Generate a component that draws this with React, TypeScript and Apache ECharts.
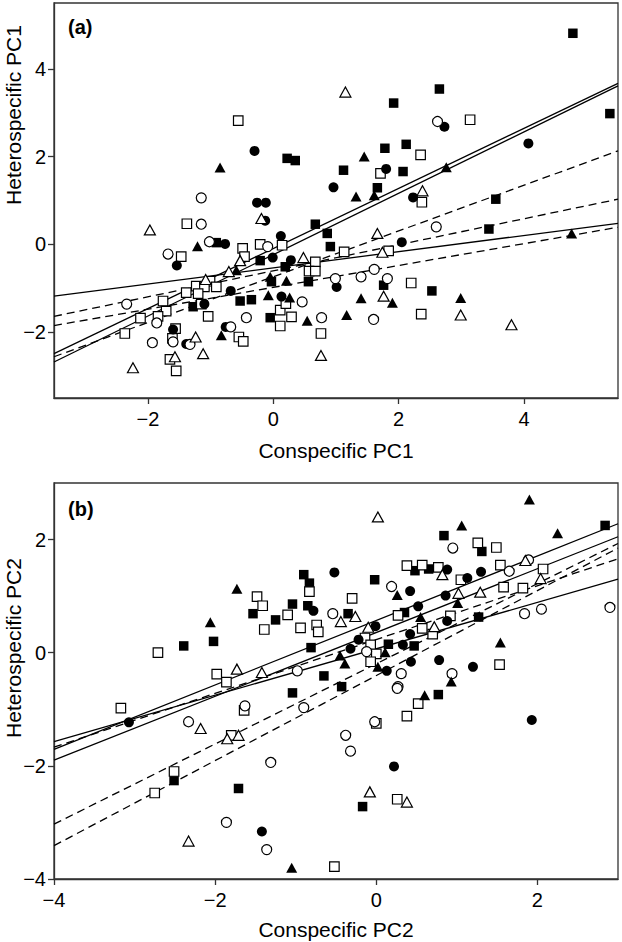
import React, { useEffect, useRef } from "react";
import * as echarts from "echarts";

// ---------- Panel (a): Conspecific PC1 vs Heterospecific PC1 ----------
const aFilledSquare = [
  [0.22, 1.96], [0.35, 1.91], [1.12, 1.69], [4.78, 4.81], [2.65, 3.54], [1.92, 3.22], [5.37, 2.98],
  [1.78, 2.19], [2.12, 2.28], [2.07, 1.66], [1.66, 1.29], [3.55, 1.03], [-0.91, 0.04], [0.67, 0.46],
  [0.86, 0.25], [0.91, -0.05], [-0.21, -0.37], [0.19, -0.51], [0.56, -0.85], [-0.03, -0.85],
  [-0.53, -1.29], [-0.35, -1.26], [-1.28, -1.42], [-0.05, -1.67], [3.44, 0.35], [1.76, -0.93], [2.53, -1.06],
];
const aOpenSquare = [
  [-0.56, 2.82], [3.14, 2.84], [2.35, 2.04], [1.71, 1.62], [2.37, 0.96], [-1.38, 0.47], [-1.47, -0.28],
  [-0.21, 0.0], [0.14, -0.02], [-0.49, -0.09], [-0.46, -0.28], [0.67, -0.4], [0.57, -0.61], [0.67, -0.61],
  [-1.01, -0.84], [-1.23, -0.95], [-1.1, -0.97], [-0.91, -0.97], [-1.39, -1.1], [-1.2, -1.12], [0.11, -1.5],
  [0.2, -1.35], [-1.76, -1.29], [-1.71, -1.52], [-1.15, -1.36], [-1.04, -1.64], [-2.12, -1.68], [-1.84, -1.64],
  [0.11, -1.86], [0.29, -1.65], [0.76, -2.03], [-2.37, -2.03], [-1.56, -1.92], [-1.61, -2.14], [-0.55, -2.11],
  [-0.48, -2.21], [-1.65, -2.62], [-1.55, -2.88], [1.13, -0.17], [1.84, -0.15], [2.2, -0.88], [2.36, -1.59],
];
const aFilledCircle = [
  [-0.3, 2.13], [-0.26, 0.95], [-0.12, 0.95], [0.96, 1.3], [2.73, 2.68], [4.07, 2.3], [1.8, 1.72], [2.23, 1.07],
  [-0.13, 0.54], [-0.77, 0.01], [-1.54, -0.48], [0.12, 0.19], [-0.01, -0.3], [0.28, -0.36], [1.01, -0.97],
  [-0.68, -1.06], [0.13, -1.19], [-1.1, -1.36], [-1.6, -1.94], [-1.39, -2.27], [-0.76, -1.88], [2.05, 0.05],
];
const aOpenCircle = [
  [-1.15, 1.06], [2.62, 2.8], [-1.15, 0.46], [-1.02, 0.06], [-1.68, -0.22], [-0.09, -0.05], [0.99, -0.78],
  [0.46, -1.31], [-2.34, -1.36], [-1.86, -1.79], [-0.43, -1.67], [0.77, -1.67], [-1.6, -2.22], [-1.93, -2.24],
  [-1.33, -2.28], [-0.68, -1.88], [2.6, 0.4], [1.61, -0.57], [1.4, -0.74], [1.82, -0.78], [1.6, -1.71],
];
const aFilledTriangle = [
  [-0.85, 1.75], [1.45, 2.0], [2.76, 1.76], [1.32, 1.09], [1.61, 1.12], [-1.21, -0.04], [-0.59, -0.59],
  [-0.05, -0.74], [0.21, -0.83], [-0.08, -1.16], [0.26, -1.21], [0.54, -1.74], [-0.83, -2.07], [4.76, 0.25],
  [1.4, -1.23], [1.9, -1.33], [2.99, -1.22], [1.17, -1.61],
];
const aOpenTriangle = [
  [1.15, 3.47], [2.38, 1.22], [-0.19, 0.59], [-1.97, 0.33], [-0.53, -0.37], [0.48, -0.3], [-0.71, -0.62],
  [-1.08, -0.8], [-1.24, -2.11], [-1.12, -2.49], [-1.57, -2.56], [-2.24, -2.81], [0.76, -2.53], [1.66, 0.25],
  [1.74, -0.18], [1.76, -1.18], [2.99, -1.61], [3.8, -1.83],
];
// fitted lines: [x1, y1, x2, y2]
const aSolidLines = [
  [-3.5, -2.49, 5.5, 3.67],
  [-3.5, -2.68, 5.5, 3.61],
  [-3.5, -1.18, 5.5, 0.48],
];
const aDashedLines = [
  [-3.5, -2.56, 5.5, 2.13],
  [-3.5, -1.64, 5.5, 1.03],
  [-3.5, -1.85, 5.5, 0.39],
];
const aTicks = [-2, 0, 2, 4];
const aYTicks = [-2, 0, 2, 4];

// ---------- Panel (b): Conspecific PC2 vs Heterospecific PC2 ----------
const bFilledSquare = [
  [-2.39, 0.12], [-2.02, 0.2], [-1.53, 0.69], [-1.25, 0.58], [-1.04, 0.86], [-0.9, 1.38], [-0.83, 1.23],
  [-0.85, 0.83], [-0.81, 0.09], [-0.65, -0.41], [-1.04, -0.71], [0.84, 2.07], [2.84, 2.25], [1.31, 1.79],
  [-0.02, 1.29], [0.48, 1.45], [0.65, 1.48], [1.27, 0.63], [-0.35, 0.69], [0.35, 0.71], [0.15, 0.15],
  [0.47, 0.12], [-0.43, -0.6], [-2.51, -2.26], [-1.71, -2.4], [0.77, -0.74], [-0.17, -2.72],
];
const bOpenSquare = [
  [-2.71, 0.0], [-1.48, 0.99], [-1.41, 0.83], [-1.39, 0.41], [-1.1, 0.67], [-0.83, 1.08], [-0.94, 0.44],
  [-0.74, 0.49], [-0.72, 0.37], [-1.98, -0.38], [-1.86, -0.52], [1.26, 1.94], [1.49, 1.86], [0.38, 1.54],
  [0.57, 1.55], [0.77, 1.51], [1.05, 1.29], [1.54, 1.55], [2.07, 1.48], [1.58, 1.16], [1.82, 1.14],
  [-0.3, 0.96], [0.27, 0.66], [0.92, 0.65], [-0.14, 0.26], [-0.07, 0.14], [0.0, -0.02], [0.57, 0.43],
  [0.7, 0.33], [-0.07, -0.16], [1.53, -0.21], [-3.17, -0.98], [-1.64, -1.02], [-1.8, -1.46], [-2.51, -2.1],
  [-2.75, -2.48], [-0.52, -3.78], [0.52, -0.9], [0.38, -1.12], [0.0, -1.25], [0.26, -2.59],
];
const bFilledCircle = [
  [-0.78, 0.74], [-0.52, 1.42], [0.88, 1.47], [1.13, 1.32], [1.3, 1.43], [0.42, 1.09], [0.86, 1.01],
  [0.52, 0.82], [0.88, 0.56], [-0.01, 0.47], [-0.22, 0.23], [-0.32, 0.07], [0.33, 0.14], [0.42, 0.33],
  [0.13, -0.32], [0.43, -0.16], [0.78, -0.13], [1.2, -0.25], [-3.07, -1.23], [-1.42, -3.16], [1.93, -1.19],
  [0.22, -2.01],
];
const bOpenCircle = [
  [-0.54, 0.69], [-0.98, -0.32], [0.95, 1.85], [1.65, 1.44], [1.89, 1.64], [0.19, 1.17], [1.84, 0.69],
  [2.05, 0.77], [2.9, 0.8], [-0.12, 0.02], [0.31, -0.37], [0.94, -0.37], [0.27, -0.6], [-2.33, -1.22],
  [-1.63, -0.94], [-0.9, -0.97], [-1.31, -1.94], [-1.86, -3.0], [-1.36, -3.48], [0.26, -0.63], [-0.02, -1.22],
  [-0.38, -1.46], [-0.32, -1.74],
];
const bFilledTriangle = [
  [-1.73, 1.13], [-2.06, 0.54], [1.9, 2.71], [1.06, 2.25], [2.25, 2.11], [0.26, 1.02], [1.01, 0.88],
  [0.55, 0.63], [0.11, 0.01], [-0.45, -0.05], [-0.39, -0.19], [0.02, -0.25], [0.93, -0.51], [1.54, 0.18],
  [-1.05, -3.8], [0.6, -0.75],
];
const bOpenTriangle = [
  [-1.73, -0.29], [-1.42, -0.35], [0.02, 2.4], [0.82, 1.38], [1.85, 1.63], [2.04, 1.31], [1.02, 1.05],
  [1.29, 1.07], [-0.44, 0.55], [-0.26, 0.64], [-0.1, 0.45], [0.72, 0.46], [-2.18, -1.34], [-1.85, -1.52],
  [-1.71, -1.46], [-2.33, -3.33], [-0.08, -2.46], [0.38, -2.64],
];
const bSolidLines = [
  [-4, -1.57, 3, 1.3],
  [-4, -1.71, 3, 2.28],
  [-4, -1.9, 3, 2.05],
];
const bDashedLines = [
  [-4, -1.67, 3, 1.66],
  [-4, -3.03, 3, 1.93],
  [-4, -3.41, 3, 1.85],
];
const bTicks = [-4, -2, 0, 2];
const bYTicks = [-4, -2, 0, 2];

const FONT = "'Liberation Sans', Arial, Helvetica, sans-serif";
const AXIS_COLOR = "#333";

const fmt = (v: number) => (v < 0 ? "\u2212" + Math.abs(v) : String(v));

function scatter(data: number[][], symbol: string, filled: boolean, idx: number) {
  const size = symbol === "rect" ? 9.5 : 10;
  return {
    type: "scatter",
    xAxisIndex: idx,
    yAxisIndex: idx,
    data,
    symbol,
    symbolSize: symbol === "triangle" ? [11, 10] : size,
    itemStyle: {
      color: filled ? "#000" : "#fff",
      borderColor: "#000",
      borderWidth: filled ? 0 : 1.2,
      opacity: 1,
    },
    z: 3,
    silent: true,
  };
}

function lineSeries(segs: number[][], dashed: boolean, idx: number) {
  return segs.map((s) => ({
    type: "line",
    xAxisIndex: idx,
    yAxisIndex: idx,
    data: [
      [s[0], s[1]],
      [s[2], s[3]],
    ],
    symbol: "none",
    lineStyle: { color: "#000", width: 1.3, type: dashed ? [8, 5] : "solid" },
    z: 2,
    silent: true,
  }));
}

function xAxis(idx: number, min: number, max: number, ticks: number[]) {
  return {
    type: "value",
    gridIndex: idx,
    min,
    max,
    axisLine: { show: true, onZero: false, lineStyle: { color: AXIS_COLOR, width: 1.3 } },
    axisTick: { show: true, length: 6, customValues: ticks, lineStyle: { color: AXIS_COLOR, width: 1.3 } },
    axisLabel: { customValues: ticks, formatter: fmt, fontSize: 20, color: "#000", margin: 11, fontFamily: FONT },
    splitLine: { show: false },
  };
}

function yAxis(idx: number, min: number, max: number, ticks: number[]) {
  return {
    type: "value",
    gridIndex: idx,
    min,
    max,
    axisLine: { show: true, onZero: false, lineStyle: { color: AXIS_COLOR, width: 1.3 } },
    axisTick: { show: true, length: 6, customValues: ticks, lineStyle: { color: AXIS_COLOR, width: 1.3 } },
    axisLabel: { customValues: ticks, formatter: fmt, fontSize: 20, color: "#000", margin: 8, fontFamily: FONT },
    splitLine: { show: false },
  };
}

function text(x: number, y: number, t: string, opts: any = {}) {
  return {
    type: "text",
    x,
    y,
    rotation: opts.rotation || 0,
    silent: true,
    style: {
      text: t,
      fill: "#000",
      font: `${opts.bold ? "bold " : ""}${opts.size || 21}px ${FONT}`,
      align: opts.align || "center",
      verticalAlign: "middle",
      textAlign: opts.align || "center",
      textVerticalAlign: "middle",
    },
  };
}

export default function App() {
  const ref = useRef<HTMLDivElement>(null);
  useEffect(() => {
    if (!ref.current) return;
    const chart = echarts.init(ref.current, null, { renderer: "svg" });
    chart.setOption({
      animation: false,
      backgroundColor: "#fff",
      grid: [
        { left: 54, top: 3, width: 564, height: 395, show: true, borderColor: AXIS_COLOR, borderWidth: 1.3, backgroundColor: "transparent" },
        { left: 54, top: 483, width: 564, height: 396, show: true, borderColor: AXIS_COLOR, borderWidth: 1.3, backgroundColor: "transparent" },
      ],
      xAxis: [xAxis(0, -3.5, 5.5, aTicks), xAxis(1, -4, 3, bTicks)],
      yAxis: [yAxis(0, -3.5, 5.5, aYTicks), yAxis(1, -4, 3, bYTicks)],
      series: [
        ...lineSeries(aSolidLines, false, 0),
        ...lineSeries(aDashedLines, true, 0),
        scatter(aFilledSquare, "rect", true, 0),
        scatter(aOpenSquare, "rect", false, 0),
        scatter(aFilledCircle, "circle", true, 0),
        scatter(aOpenCircle, "circle", false, 0),
        scatter(aFilledTriangle, "triangle", true, 0),
        scatter(aOpenTriangle, "triangle", false, 0),
        ...lineSeries(bSolidLines, false, 1),
        ...lineSeries(bDashedLines, true, 1),
        scatter(bFilledSquare, "rect", true, 1),
        scatter(bOpenSquare, "rect", false, 1),
        scatter(bFilledCircle, "circle", true, 1),
        scatter(bOpenCircle, "circle", false, 1),
        scatter(bFilledTriangle, "triangle", true, 1),
        scatter(bOpenTriangle, "triangle", false, 1),
      ],
      graphic: [
        text(68, 27, "(a)", { bold: true, size: 20, align: "left" }),
        text(68, 509, "(b)", { bold: true, size: 20, align: "left" }),
        text(336, 450, "Conspecific PC1"),
        text(336, 929, "Conspecific PC2"),
        text(13, 115, "Heterospecific PC1", { rotation: Math.PI / 2 }),
        text(13, 648, "Heterospecific PC2", { rotation: Math.PI / 2 }),
      ],
    });
    return () => chart.dispose();
  }, []);
  return (
    <div
      ref={ref}
      style={{ position: "absolute", left: 0, top: 0, width: 622, height: 942, background: "#fff" }}
    />
  );
}
